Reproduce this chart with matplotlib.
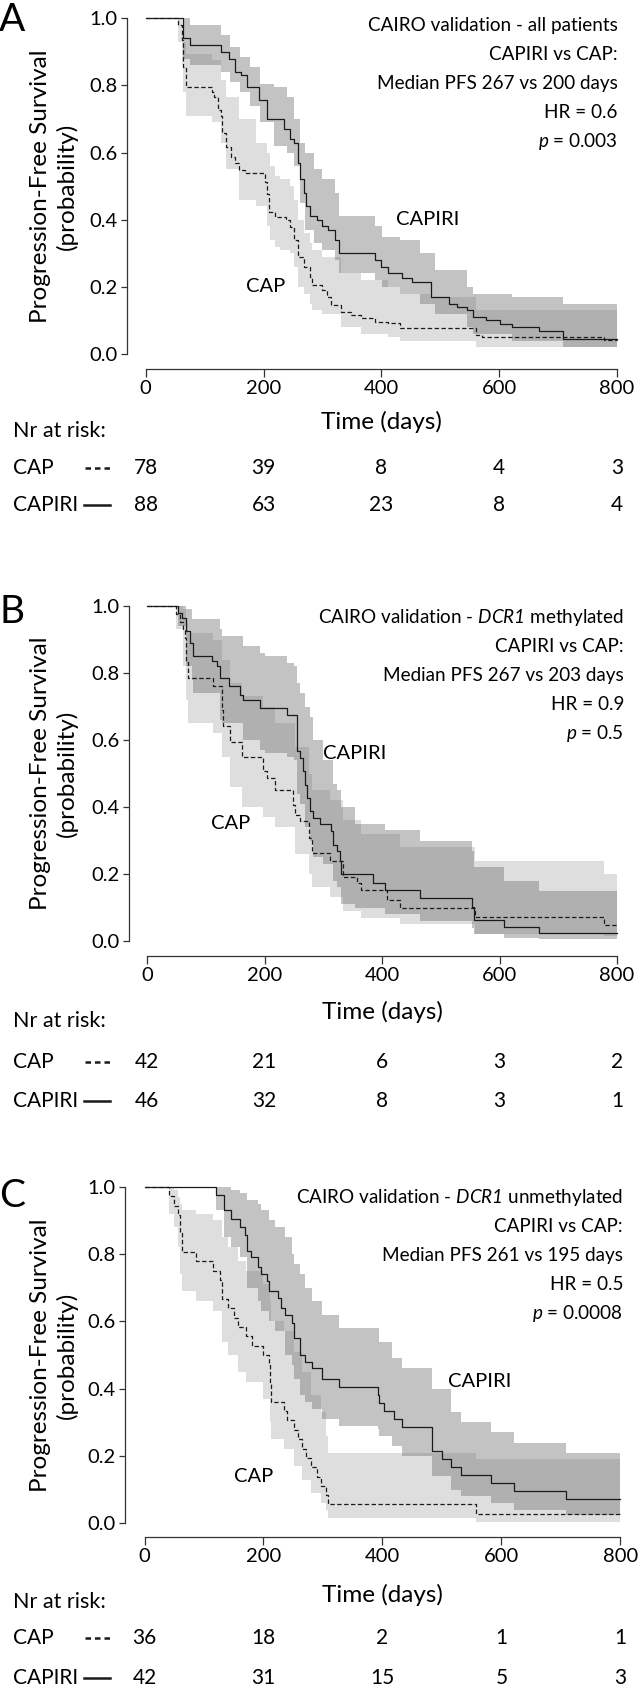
import numpy as np
import matplotlib.pyplot as plt
from matplotlib.lines import Line2D
from matplotlib.transforms import blended_transform_factory

plt.rcParams['font.family'] = ['Lato', 'DejaVu Sans']
plt.rcParams['mathtext.fontset'] = 'custom'
plt.rcParams['mathtext.rm'] = 'Lato:italic'
plt.rcParams['mathtext.it'] = 'Lato:italic'

# ---------------- data ----------------
xticks = [0, 200, 400, 600, 800]
yticks = [0.0, 0.2, 0.4, 0.6, 0.8, 1.0]

# Panel A - all patients
a_title = ["CAIRO validation - all patients", "CAPIRI vs CAP:",
           "Median PFS 267 vs 200 days", "HR = 0.6", "$p$ = 0.003"]
a_capiri_t = [0, 64, 75, 127, 141, 151, 161, 172, 193, 206, 234, 245, 252, 258, 262, 269, 272, 279, 290, 300,
              310, 321, 328, 390, 400, 411, 435, 452, 484, 515, 529, 546, 556, 577, 601, 622, 667, 709]
a_capiri_s = [1.0, 0.94, 0.92, 0.90, 0.88, 0.84, 0.83, 0.795, 0.756, 0.70, 0.67, 0.64, 0.63, 0.57, 0.52, 0.48,
              0.44, 0.41, 0.40, 0.38, 0.37, 0.34, 0.30, 0.28, 0.26, 0.24, 0.225, 0.215, 0.17, 0.15, 0.14, 0.13,
              0.11, 0.10, 0.09, 0.08, 0.07, 0.045]
a_cap_t = [0, 54, 61, 64, 68, 113, 116, 123, 127, 130, 137, 144, 151, 158, 168, 203, 206, 210, 220, 238,
           245, 252, 259, 269, 279, 283, 300, 307, 314, 331, 349, 366, 390, 411, 432, 560, 570, 778]
a_cap_s = [1.0, 0.98, 0.935, 0.855, 0.795, 0.78, 0.766, 0.726, 0.71, 0.657, 0.617, 0.587, 0.568, 0.548, 0.538,
           0.513, 0.478, 0.424, 0.408, 0.399, 0.379, 0.339, 0.29, 0.26, 0.23, 0.205, 0.19, 0.17, 0.146, 0.126,
           0.116, 0.106, 0.096, 0.091, 0.076, 0.057, 0.052, 0.042]
a_capiri_band_t = [0, 64, 75, 127, 143, 160, 177, 194, 217, 239, 251, 262, 271, 285, 299, 321, 328, 389, 401,
                   432, 466, 491, 545, 556, 622, 709]
a_capiri_hi = [1.0, 1.0, 0.98, 0.95, 0.915, 0.885, 0.855, 0.805, 0.795, 0.766, 0.70, 0.63, 0.60, 0.55, 0.52,
               0.48, 0.41, 0.38, 0.35, 0.34, 0.30, 0.25, 0.20, 0.18, 0.17, 0.15]
a_capiri_lo = [1.0, 0.88, 0.86, 0.84, 0.81, 0.78, 0.74, 0.69, 0.62, 0.60, 0.56, 0.45, 0.37, 0.33, 0.31, 0.28,
               0.24, 0.22, 0.20, 0.18, 0.15, 0.12, 0.08, 0.06, 0.04, 0.02]
a_cap_band_t = [0, 54, 61, 64, 68, 113, 127, 137, 158, 188, 206, 211, 220, 228, 245, 252, 259, 269, 279, 283,
                300, 331, 366, 411, 432, 483, 560]
a_cap_hi = [1.0, 1.0, 0.965, 0.93, 0.895, 0.875, 0.815, 0.765, 0.70, 0.63, 0.60, 0.56, 0.53, 0.52, 0.50, 0.46,
            0.40, 0.36, 0.33, 0.31, 0.29, 0.24, 0.22, 0.20, 0.18, 0.17, 0.13]
a_cap_lo = [1.0, 0.93, 0.86, 0.78, 0.71, 0.69, 0.63, 0.55, 0.46, 0.44, 0.38, 0.34, 0.32, 0.31, 0.30, 0.26,
            0.20, 0.18, 0.15, 0.13, 0.12, 0.08, 0.06, 0.05, 0.04, 0.04, 0.02]
a_risk_cap = [78, 39, 8, 4, 3]
a_risk_capiri = [88, 63, 23, 8, 4]

# Panel B - DCR1 methylated
b_title = ["CAIRO validation - $DCR1$ methylated", "CAPIRI vs CAP:",
           "Median PFS 267 vs 203 days", "HR = 0.9", "$p$ = 0.5"]
b_capiri_t = [0, 53, 59, 67, 73, 79, 110, 119, 124, 139, 158, 164, 192, 238, 255, 260, 266, 269, 272, 277,
              283, 294, 314, 317, 323, 328, 331, 385, 405, 464, 553, 556, 607, 667]
b_capiri_s = [1.0, 0.979, 0.964, 0.924, 0.89, 0.85, 0.835, 0.82, 0.785, 0.76, 0.735, 0.72, 0.695, 0.675,
              0.566, 0.546, 0.506, 0.467, 0.427, 0.387, 0.368, 0.348, 0.328, 0.288, 0.268, 0.238, 0.20,
              0.172, 0.152, 0.127, 0.102, 0.063, 0.043, 0.023]
b_cap_t = [0, 50, 56, 62, 65, 67, 70, 113, 127, 130, 141, 161, 198, 204, 218, 249, 252, 260, 275, 280,
           312, 334, 357, 365, 408, 431, 558, 778]
b_cap_s = [1.0, 0.976, 0.952, 0.929, 0.905, 0.833, 0.786, 0.762, 0.69, 0.643, 0.595, 0.548, 0.506, 0.487,
           0.452, 0.407, 0.377, 0.357, 0.308, 0.263, 0.238, 0.192, 0.172, 0.152, 0.123, 0.098, 0.073, 0.049]
b_capiri_band_t = [0, 53, 67, 76, 79, 124, 128, 164, 192, 201, 238, 250, 255, 260, 269, 278, 283, 299, 317,
                   323, 331, 354, 405, 464, 553, 556, 607, 667]
b_capiri_hi = [1.0, 1.0, 0.99, 0.96, 0.96, 0.93, 0.91, 0.88, 0.86, 0.85, 0.83, 0.82, 0.77, 0.74, 0.70, 0.67,
               0.60, 0.54, 0.47, 0.45, 0.40, 0.35, 0.33, 0.30, 0.27, 0.22, 0.18, 0.15]
b_capiri_lo = [1.0, 0.94, 0.82, 0.78, 0.74, 0.66, 0.65, 0.60, 0.57, 0.56, 0.55, 0.54, 0.44, 0.41, 0.34, 0.30,
               0.25, 0.23, 0.18, 0.16, 0.11, 0.10, 0.08, 0.06, 0.04, 0.02, 0.01, 0.005]
b_cap_band_t = [0, 50, 62, 67, 70, 113, 127, 141, 161, 198, 218, 252, 275, 280, 312, 334, 365, 431, 558, 778]
b_cap_hi = [1.0, 1.0, 0.99, 0.95, 0.92, 0.90, 0.84, 0.77, 0.73, 0.70, 0.65, 0.58, 0.50, 0.45, 0.42, 0.36,
            0.32, 0.28, 0.24, 0.20]
b_cap_lo = [1.0, 0.93, 0.82, 0.72, 0.65, 0.62, 0.55, 0.46, 0.40, 0.37, 0.34, 0.26, 0.20, 0.16, 0.13, 0.09,
            0.07, 0.05, 0.02, 0.015]
b_risk_cap = [42, 21, 6, 3, 2]
b_risk_capiri = [46, 32, 8, 3, 1]

# Panel C - DCR1 unmethylated
c_title = ["CAIRO validation - $DCR1$ unmethylated", "CAPIRI vs CAP:",
           "Median PFS 261 vs 195 days", "HR = 0.5", "$p$ = 0.0008"]
c_capiri_t = [0, 121, 133, 145, 160, 169, 172, 179, 190, 196, 206, 210, 224, 230, 237, 248, 251, 261, 270,
              282, 299, 327, 392, 395, 402, 419, 433, 483, 500, 515, 532, 582, 621, 709]
c_capiri_s = [1.0, 0.976, 0.93, 0.905, 0.88, 0.857, 0.81, 0.79, 0.76, 0.74, 0.72, 0.69, 0.67, 0.64, 0.62,
              0.595, 0.55, 0.50, 0.48, 0.46, 0.43, 0.405, 0.38, 0.357, 0.333, 0.31, 0.286, 0.214, 0.19,
              0.167, 0.143, 0.119, 0.095, 0.071]
c_cap_t = [0, 42, 50, 56, 60, 63, 87, 115, 127, 130, 141, 150, 158, 170, 180, 200, 209, 211, 213, 235,
           240, 252, 258, 264, 272, 280, 290, 297, 305, 309, 558]
c_cap_s = [1.0, 0.972, 0.944, 0.917, 0.861, 0.806, 0.778, 0.75, 0.722, 0.667, 0.639, 0.611, 0.583, 0.556,
           0.528, 0.5, 0.472, 0.417, 0.361, 0.333, 0.306, 0.278, 0.25, 0.222, 0.194, 0.167, 0.139, 0.111,
           0.083, 0.056, 0.028]
c_capiri_band_t = [0, 121, 133, 145, 160, 172, 190, 196, 210, 220, 237, 248, 251, 261, 270, 282, 299, 327,
                   392, 395, 416, 433, 483, 515, 532, 582, 621, 709]
c_capiri_hi = [1.0, 1.0, 1.0, 0.99, 0.98, 0.96, 0.95, 0.93, 0.90, 0.88, 0.85, 0.80, 0.77, 0.74, 0.70, 0.66,
               0.62, 0.58, 0.58, 0.54, 0.49, 0.46, 0.40, 0.33, 0.30, 0.27, 0.24, 0.21]
c_capiri_lo = [1.0, 0.93, 0.85, 0.82, 0.79, 0.70, 0.66, 0.63, 0.60, 0.57, 0.50, 0.47, 0.43, 0.38, 0.36, 0.34,
               0.31, 0.29, 0.28, 0.26, 0.23, 0.20, 0.14, 0.10, 0.08, 0.06, 0.04, 0.025]
c_cap_band_t = [0, 42, 50, 56, 60, 63, 87, 115, 130, 141, 158, 170, 200, 211, 213, 235, 252, 264, 280, 297,
                305, 309, 558]
c_cap_hi = [1.0, 1.0, 0.99, 0.97, 0.95, 0.93, 0.92, 0.90, 0.85, 0.82, 0.78, 0.75, 0.71, 0.66, 0.60, 0.57,
            0.51, 0.45, 0.38, 0.33, 0.26, 0.21, 0.19]
c_cap_lo = [1.0, 0.92, 0.88, 0.82, 0.74, 0.69, 0.66, 0.63, 0.54, 0.50, 0.45, 0.42, 0.37, 0.30, 0.25, 0.22,
            0.17, 0.13, 0.09, 0.06, 0.04, 0.015, 0.005]
c_risk_cap = [36, 18, 2, 1, 1]
c_risk_capiri = [42, 31, 15, 5, 3]

# ---------------- layout (pixels of the 640x1688 canvas) ----------------
W, H = 640, 1688
fig = plt.figure(figsize=(W / 100, H / 100), dpi=100)

LINE = '#1a1a1a'
CAP_FILL = '#dedede'
CAPIRI_FILL = '#7a7a7a'


def fx(px):
    return px / W


def fy(py):
    return 1 - py / H


def ext(t, v):
    # carry the last value on to the end of follow-up
    return list(t) + [800], list(v) + [v[-1]]


def panel(letter, title, cap, capiri, cap_band, capiri_band, risk_cap, risk_capiri, lbl_capiri, lbl_cap, g):
    ppd = (g['x800'] - g['x0']) / 800.0
    ppu = g['y0'] - g['y1']
    xl = (g['yax'] - g['x0']) / ppd
    xr = 815
    right = g['x0'] + xr * ppd
    yb = -(g['xax'] - g['y0']) / ppu
    yt = 1.04
    top = g['y0'] - yt * ppu
    ax = fig.add_axes([fx(g['yax']), fy(g['xax']), (right - g['yax']) / W, (g['xax'] - top) / H])
    ax.set_xlim(xl, xr)
    ax.set_ylim(yb, yt)

    t, lo = ext(cap_band[0], cap_band[1])
    _, hi = ext(cap_band[0], cap_band[2])
    ax.fill_between(t, lo, hi, step='post', color=CAP_FILL, lw=0)
    t, lo = ext(capiri_band[0], capiri_band[1])
    _, hi = ext(capiri_band[0], capiri_band[2])
    ax.fill_between(t, lo, hi, step='post', color=CAPIRI_FILL, alpha=0.45, lw=0)

    t, s = ext(*cap)
    ax.step(t, s, where='post', color=LINE, lw=0.9, ls=(0, (3.5, 2)))
    t, s = ext(*capiri)
    ax.step(t, s, where='post', color=LINE, lw=0.9)

    for sp in ['top', 'right']:
        ax.spines[sp].set_visible(False)
    ax.spines['left'].set_bounds(0, 1)
    ax.spines['bottom'].set_bounds(0, 800)
    for sp in ['left', 'bottom']:
        ax.spines[sp].set_linewidth(0.9)
        ax.spines[sp].set_color('#333333')
    ax.set_xticks(xticks)
    ax.set_yticks(yticks)
    ax.set_yticklabels(['%.1f' % v for v in yticks])
    ax.tick_params(axis='x', length=5.5, width=0.9, pad=2.5, labelsize=14.5, color='#333333')
    ax.tick_params(axis='y', length=4, width=0.9, pad=2.5, labelsize=14.5, color='#333333')

    ax.text(lbl_capiri[0], lbl_capiri[1], 'CAPIRI', fontsize=14.5, ha='center', va='center')
    ax.text(lbl_cap[0], lbl_cap[1], 'CAP', fontsize=14.5, ha='center', va='center')

    # panel letter, y label, summary text
    fig.text(fx(12), fy(g['letter']), letter, fontsize=28, ha='center', va='center')
    fig.text(fx(54), fy((g['y0'] + g['y1']) / 2), 'Progression-Free Survival\n(probability)',
             rotation=90, fontsize=17.5, ha='center', va='center', linespacing=1.3, multialignment='center')
    for i, line in enumerate(title):
        fig.text(fx(g['tr']), fy(g['t0'] + i * g['dt']), line, fontsize=13.6, ha='right', va='center')

    fig.text(fx(g['x0'] + 400 * ppd), fy(g['time']), 'Time (days)', fontsize=17.5, ha='center', va='center')

    # numbers at risk
    tr = blended_transform_factory(ax.transData, fig.transFigure)
    fig.text(fx(13), fy(g['nr']), 'Nr at risk:', fontsize=15.5, ha='left', va='center')
    fig.text(fx(13), fy(g['rc']), 'CAP', fontsize=15, ha='left', va='center')
    fig.text(fx(13), fy(g['rr']), 'CAPIRI', fontsize=15, ha='left', va='center')
    fig.add_artist(Line2D([fx(85), fx(110)], [fy(g['rc'])] * 2, color=LINE, lw=1.8, ls=(0, (2.2, 1.6))))
    fig.add_artist(Line2D([fx(84), fx(110)], [fy(g['rr'])] * 2, color=LINE, lw=1.8))
    for xt, n1, n2 in zip(xticks, risk_cap, risk_capiri):
        fig.text(xt, fy(g['rc']), str(n1), fontsize=15, ha='center', va='center', transform=tr)
        fig.text(xt, fy(g['rr']), str(n2), fontsize=15, ha='center', va='center', transform=tr)
    return ax


panel('A', a_title, (a_cap_t, a_cap_s), (a_capiri_t, a_capiri_s),
      (a_cap_band_t, a_cap_lo, a_cap_hi), (a_capiri_band_t, a_capiri_lo, a_capiri_hi),
      a_risk_cap, a_risk_capiri, (478, 0.40), (204, 0.20),
      dict(yax=127, x0=145.7, x800=617, y0=354, y1=18.3, xax=369, letter=20, tr=618, t0=26, dt=29,
           time=422, nr=431, rc=468, rr=505))

panel('B', b_title, (b_cap_t, b_cap_s), (b_capiri_t, b_capiri_s),
      (b_cap_band_t, b_cap_lo, b_cap_hi), (b_capiri_band_t, b_capiri_lo, b_capiri_hi),
      b_risk_cap, b_risk_capiri, (354, 0.56), (143, 0.35),
      dict(yax=128.6, x0=147, x800=617, y0=941, y1=606, xax=956, letter=612, tr=624, t0=617, dt=29.25,
           time=1012, nr=1021, rc=1062, rr=1101))

panel('C', c_title, (c_cap_t, c_cap_s), (c_capiri_t, c_capiri_s),
      (c_cap_band_t, c_cap_lo, c_cap_hi), (c_capiri_band_t, c_capiri_lo, c_capiri_hi),
      c_risk_cap, c_risk_capiri, (564, 0.42), (184, 0.14),
      dict(yax=124.5, x0=144.5, x800=620.4, y0=1523.3, y1=1186.7, xax=1536.7, letter=1196, tr=623, t0=1197,
           dt=29, time=1595, nr=1602, rc=1638, rr=1678))

fig.savefig('out.png', dpi=100)
